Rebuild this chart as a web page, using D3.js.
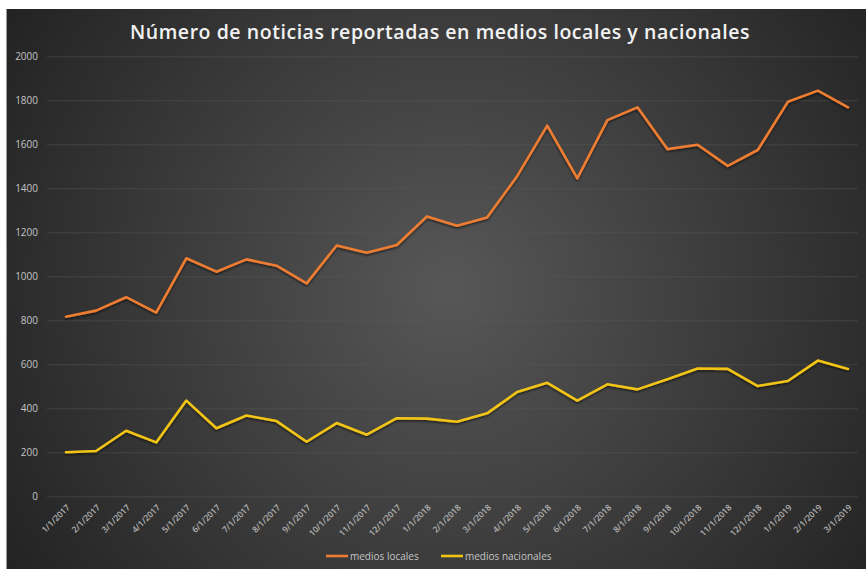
<!DOCTYPE html>
<html><head><meta charset="utf-8">
<script src="https://cdn.jsdelivr.net/npm/d3@7"></script>
<style>html,body{margin:0;padding:0;background:#fff;}svg{display:block;}</style>
</head><body>
<script>
const categories = ["1/1/2017","2/1/2017","3/1/2017","4/1/2017","5/1/2017","6/1/2017","7/1/2017","8/1/2017","9/1/2017","10/1/2017","11/1/2017","12/1/2017","1/1/2018","2/1/2018","3/1/2018","4/1/2018","5/1/2018","6/1/2018","7/1/2018","8/1/2018","9/1/2018","10/1/2018","11/1/2018","12/1/2018","1/1/2019","2/1/2019","3/1/2019"];
const mediosLocales = [816,844,905,835,1082,1021,1077,1048,968,1140,1107,1142,1272,1230,1267,1455,1685,1445,1710,1768,1578,1598,1502,1574,1793,1844,1768];
const mediosNacionales = [200,206,298,245,435,309,367,342,248,333,280,355,353,339,377,474,516,435,509,486,532,581,579,501,524,617,579];
const yTicks = [0,200,400,600,800,1000,1200,1400,1600,1800,2000];
const seriesNames = ["medios locales","medios nacionales"];
const seriesColors = ["#ED7D31","#F2C416"];
const title = "Número de noticias reportadas en medios locales y nacionales";

const W = 866, H = 569;
const svg = d3.select("body").append("svg").attr("width", W).attr("height", H);
const defs = svg.append("defs");
const grad = defs.append("radialGradient").attr("id","bg")
  .attr("gradientUnits","userSpaceOnUse").attr("cx",450).attr("cy",290).attr("r",520);
grad.append("stop").attr("offset","0%").attr("stop-color","#575757");
grad.append("stop").attr("offset","100%").attr("stop-color","#232323");
const f = defs.append("filter").attr("id","sh").attr("x","-10%").attr("y","-10%").attr("width","120%").attr("height","130%");
f.append("feDropShadow").attr("dx",0).attr("dy",1.5).attr("stdDeviation",1.2).attr("flood-color","#000").attr("flood-opacity",0.6);

svg.append("rect").attr("x",7).attr("y",9).attr("width",W-7).attr("height",H-9).attr("fill","url(#bg)");
svg.append("line").attr("x1",6.5).attr("x2",6.5).attr("y1",9).attr("y2",H).attr("stroke","#9a9a9a").attr("stroke-width",1);

const x = d3.scalePoint().domain(categories).range([66, 848]);
const y = d3.scaleLinear().domain([0,2000]).range([496.3, 56.3]);

// gridlines
const gridAxis = d3.axisLeft(y).tickValues(yTicks).tickSize(-(858-47)).tickFormat("");
const gg = svg.append("g").attr("transform","translate(47,0)").call(gridAxis);
gg.select(".domain").remove();
gg.selectAll("line").attr("stroke","#5a5a5a").attr("stroke-opacity",0.45).attr("stroke-width",1);

// y labels
const yAxis = d3.axisLeft(y).tickValues(yTicks).tickSize(0).tickPadding(0).tickFormat(d3.format("d"));
const ya = svg.append("g").attr("transform","translate(38,0)").call(yAxis);
ya.select(".domain").remove();
ya.selectAll("text").attr("fill","#c4c4c4").attr("font-family","'Open Sans', sans-serif").attr("font-size",10).attr("dy","0.32em");

// x labels
const xAxis = d3.axisBottom(x).tickSize(0).tickPadding(0);
const xa = svg.append("g").attr("transform","translate(0,503)").call(xAxis);
xa.select(".domain").remove();
xa.selectAll("text").attr("fill","#b4b4b4").attr("font-family","'Open Sans', sans-serif").attr("font-size",8.5)
  .attr("font-weight",600)
  .attr("text-anchor","end").attr("dy",0).attr("y",0).attr("x",0)
  .attr("transform","translate(4,5) rotate(-45)");

// lines
const line = d3.line().x((d,i)=>x(categories[i])).y(d=>y(d));
[mediosLocales, mediosNacionales].forEach((s,k)=>{
  svg.append("path").datum(s).attr("d",line).attr("fill","none")
    .attr("stroke",seriesColors[k]).attr("stroke-width",2.6).attr("stroke-linejoin","round").attr("stroke-linecap","round")
    .attr("filter","url(#sh)");
});

// title
svg.append("text").attr("x",440).attr("y",39).attr("text-anchor","middle")
  .attr("fill","#f2f2f2").attr("font-family","'Open Sans', sans-serif").attr("font-weight",600).attr("font-size",19.5)
  .attr("letter-spacing",0.55)
  .text(title);

// legend
const legX = [326, 441];
seriesNames.forEach((n,k)=>{
  const g = svg.append("g").attr("transform",`translate(${legX[k]},556)`);
  g.append("line").attr("x1",0).attr("x2",22).attr("y1",0).attr("y2",0).attr("stroke",seriesColors[k]).attr("stroke-width",2.6);
  g.append("text").attr("x",24).attr("y",0).attr("dy","0.35em").attr("fill","#c4c4c4")
    .attr("font-family","'Open Sans', sans-serif").attr("font-size",10).text(n);
});
</script>
</body></html>
